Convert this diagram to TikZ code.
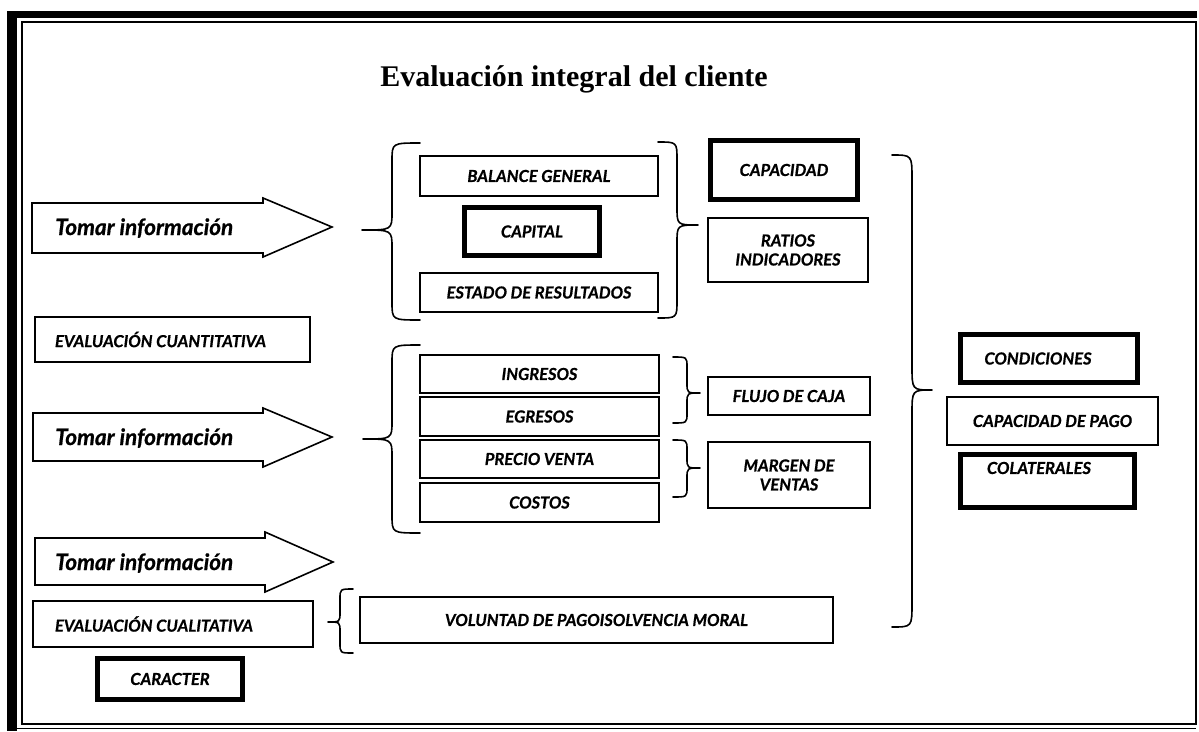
\documentclass[tikz,border=0pt]{standalone}
\usepackage{fontspec}
\setmainfont{Liberation Serif}
\newfontfamily\lato{Lato}[BoldItalicFeatures={FakeBold=0.7}]
\newcommand\mybrace[7]{% xe xv xt top tip bot r
  \draw[brace line] (#1,#4) .. controls (#2,#4) .. (#2,#4+#7) -- (#2,#5-#7)
    .. controls (#2,#5) .. (#3,#5) .. controls (#2,#5) .. (#2,#5+#7)
    -- (#2,#6-#7) .. controls (#2,#6) .. (#1,#6);}
\begin{document}
\begin{tikzpicture}[x=1pt,y=-1pt,
  box/.style={draw, line width=1.6pt, inner sep=0pt, align=center,
    font=\lato\bfseries\itshape\fontsize{16.5}{19}\selectfont},
  thickbox/.style={box, line width=5pt},
  lbl/.style={inner sep=0pt, font=\lato\bfseries\itshape\fontsize{16.5}{19}\selectfont},
  brace line/.style={line width=1.6pt, line join=round, line cap=round},
  bigarrow/.style={draw, line width=1.6pt, fill=white, line join=miter},
  arrtext/.style={font=\lato\bfseries\itshape\fontsize{22.5}{26}\selectfont, anchor=base west, inner sep=0pt}]
\useasboundingbox (0,0) rectangle (1199,731);
% frame
\fill (7,11) rectangle (17,731);
\fill (7,11) rectangle (1197,18);
\draw[line width=1.4pt] (22,22) -- (1196,22) -- (1196,724) -- (22,724) -- cycle;
\draw[line width=1pt] (17,728) -- (1196,728);
% title
\node (title) at (574,79) {\fontsize{30}{34}\selectfont\bfseries Evaluación integral del cliente};
% arrows
\draw[bigarrow] (32,203) -- (263,203) -- (263,198) -- (332,227) -- (263,257) -- (263,253) -- (32,253) -- cycle;
\node[arrtext] (t1) at (55,235) {Tomar información};
\draw[bigarrow] (33,413) -- (263,413) -- (263,408) -- (332,437) -- (263,467) -- (263,461) -- (33,461) -- cycle;
\node[arrtext] (t2) at (55,445) {Tomar información};
\draw[bigarrow] (35,538) -- (265,538) -- (265,532) -- (333,562) -- (265,592) -- (265,585) -- (35,585) -- cycle;
\node[arrtext] (t3) at (55,570) {Tomar información};
% top group
\node[box, minimum width=238pt, minimum height=40pt] (bal) at (539,176) {BALANCE GENERAL};
\node[thickbox, minimum width=135pt, minimum height=48pt] (cap) at (532,231.5) {CAPITAL};
\node[box, minimum width=238pt, minimum height=39pt] (est) at (539,292.5) {ESTADO DE RESULTADOS};
\node[thickbox, minimum width=147pt, minimum height=59pt] (capa) at (784,170) {CAPACIDAD};
\node[box, minimum width=160pt, minimum height=64pt] (rat) at (788,250) {RATIOS\\INDICADORES};
\mybrace{420}{392}{362}{143}{230}{320}{18}
\mybrace{658}{677}{698}{142}{225}{318}{18}
% left boxes
\node[box, minimum width=275pt, minimum height=45pt] (cuant) at (172.5,339.5) {\makebox[235pt][l]{EVALUACIÓN CUANTITATIVA}};
% middle group
\node[box, minimum width=239pt, minimum height=38pt] (ing) at (539.5,374) {INGRESOS};
\node[box, minimum width=239pt, minimum height=39pt] (egr) at (539.5,416.5) {EGRESOS};
\node[box, minimum width=239pt, minimum height=38pt] (pre) at (539.5,459) {PRECIO VENTA};
\node[box, minimum width=239pt, minimum height=39pt] (cos) at (539.5,502.5) {COSTOS};
\node[box, minimum width=162pt, minimum height=38pt] (flu) at (789,396) {FLUJO DE CAJA};
\node[box, minimum width=162pt, minimum height=66pt] (mar) at (789,475) {MARGEN DE\\VENTAS};
\mybrace{420}{392}{363}{345}{439}{533}{18}
\mybrace{673}{687}{700}{357}{393}{423}{10}
\mybrace{673}{687}{700}{440}{468}{497}{10}
% right column
\mybrace{892}{912}{932}{155}{390}{627}{24}
\node[thickbox, minimum width=177pt, minimum height=48pt] (cond) at (1049,358.5) {CONDICIONES\hspace*{22pt}};
\node[box, minimum width=211pt, minimum height=48pt] (pago) at (1052.5,421) {CAPACIDAD DE PAGO};
\node[thickbox, minimum width=174pt, minimum height=53pt] (col) at (1047.5,481) {};
\node[lbl] (colt) at (1039,468) {COLATERALES};
% bottom
\node[box, minimum width=280pt, minimum height=46pt] (cual) at (173,624) {\makebox[236pt][l]{EVALUACIÓN CUALITATIVA}};
\node[box, minimum width=473pt, minimum height=46pt] (vol) at (596.5,620) {VOLUNTAD DE PAGOISOLVENCIA MORAL};
\mybrace{353}{340}{328}{589}{622}{653}{10}
\node[thickbox, minimum width=145pt, minimum height=41pt] (car) at (170,679) {CARACTER};
\end{tikzpicture}
\end{document}
